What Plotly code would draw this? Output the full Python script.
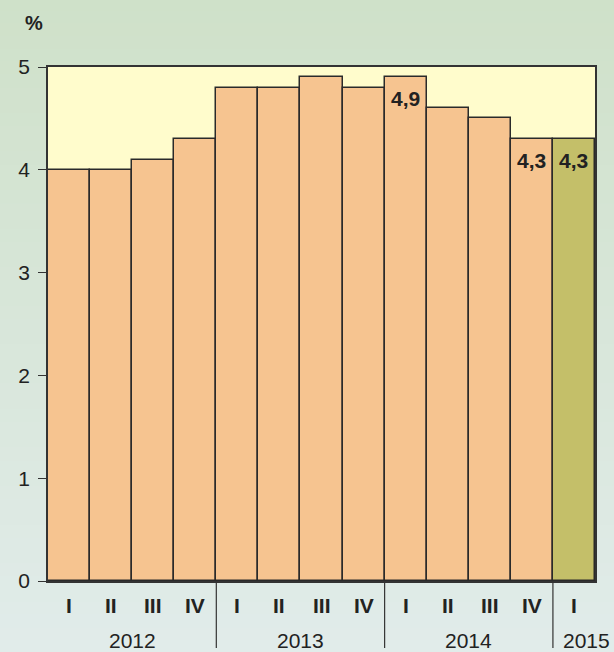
import plotly.graph_objects as go

quarters = ["I", "II", "III", "IV", "I", "II", "III", "IV", "I", "II", "III", "IV", "I"]
years = ["2012", "2013", "2014", "2015"]
year_counts = [4, 4, 4, 1]
values = [4.0, 4.0, 4.1, 4.3, 4.8, 4.8, 4.9, 4.8, 4.9, 4.6, 4.5, 4.3, 4.3]
labels = ["", "", "", "", "", "", "", "", "4,9", "", "", "4,3", "4,3"]
y_ticks = [0, 1, 2, 3, 4, 5]

ORANGE = "#f6c490"
OLIVE = "#c4bf69"
EDGE = "#2a2a2a"
FONT = "Liberation Sans, Arial, sans-serif"

colors = [ORANGE] * (len(values) - 1) + [OLIVE]
xs = [i + 0.5 for i in range(len(values))]

fig = go.Figure()
fig.add_trace(go.Bar(
    x=xs, y=values, width=1.0,
    marker=dict(color=colors, line=dict(color=EDGE, width=1.5)),
    hoverinfo="skip",
))

shapes = []
top = (206, 224, 199)
bot = (227, 237, 238)
n = 60
for i in range(n):
    t = i / (n - 1)
    c = tuple(round(top[k] + (bot[k] - top[k]) * t) for k in range(3))
    shapes.append(dict(type="rect", xref="paper", yref="paper",
                       x0=-0.2, x1=1.2, y0=1.2 - (i + 1) * 1.5 / n, y1=1.2 - i * 1.5 / n + 0.01,
                       fillcolor="rgb(%d,%d,%d)" % c, line=dict(width=0), layer="below"))
shapes.append(dict(type="rect", xref="x", yref="y", x0=0, x1=len(values), y0=0, y1=5,
                   fillcolor="#fffccc", line=dict(width=0), layer="below"))

plot_h = 652 - 67 - 71
plot_w = 595 - 48
pos = 0
annotations = []
for x, v, lab in zip(xs, values, labels):
    if lab:
        annotations.append(dict(x=x, y=v, xref="x", yref="y", text="<b>" + lab + "</b>",
                                showarrow=False, yanchor="top", yshift=-8,
                                font=dict(family=FONT, size=21, color="#222222")))

for yr, cnt in zip(years, year_counts):
    xc = pos + cnt / 2
    if cnt == 1:
        xc = pos + 0.8  # last (partial) year label sits toward the right edge
    annotations.append(dict(x=xc, y=-(640 - 581) / plot_h, xref="x", yref="paper",
                            text=yr, showarrow=False, yanchor="middle",
                            font=dict(family=FONT, size=21, color="#222222")))
    pos += cnt
    if pos < len(values):
        shapes.append(dict(type="line", xref="x", yref="paper", x0=pos, x1=pos,
                           y0=0, y1=-(648 - 581) / plot_h, line=dict(color="#333333", width=1.2)))

for x, q in zip(xs, quarters):
    annotations.append(dict(x=x, y=-(605 - 581) / plot_h, xref="x", yref="paper",
                            text="<b>" + q + "</b>", showarrow=False, yanchor="middle",
                            font=dict(family=FONT, size=21, color="#222222")))

annotations.append(dict(x=(23 - 48) / plot_w, y=1 + (67 - 23) / plot_h, xref="paper", yref="paper",
                        text="<b>%</b>", showarrow=False, yanchor="middle",
                        font=dict(family=FONT, size=20, color="#222222")))

fig.update_layout(
    width=614, height=652,
    margin=dict(l=48, r=19, t=67, b=71),
    paper_bgcolor="rgba(0,0,0,0)",
    plot_bgcolor="rgba(0,0,0,0)",
    shapes=shapes, annotations=annotations,
    showlegend=False, bargap=0,
    xaxis=dict(range=[0, len(values)], showticklabels=False, ticks="", showgrid=False,
               zeroline=False, showline=True, mirror=True, linecolor="#333333", linewidth=1.8),
    yaxis=dict(range=[0, 5], tickvals=y_ticks, ticks="outside", ticklen=8, tickwidth=1.2,
               tickcolor="#333333", showgrid=False, zeroline=False, showline=True, mirror=True,
               linecolor="#333333", linewidth=1.8, ticklabelstandoff=4,
               tickfont=dict(family=FONT, size=21, color="#222222")),
)

fig.write_html("out.html", config={"displayModeBar": False},
               post_script="document.body.style.margin='0';document.body.style.overflow='hidden';")
